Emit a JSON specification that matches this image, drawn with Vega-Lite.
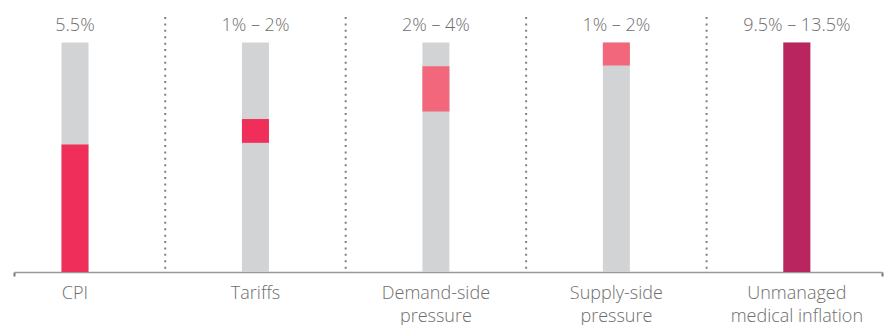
{
  "$schema": "https://vega.github.io/schema/vega-lite/v6.json",
  "width": 868,
  "height": 258,
  "autosize": {"type": "none"},
  "padding": {"left": 14, "top": 14, "right": 6, "bottom": 53},
  "background": "white",
  "config": {
    "view": {"stroke": null},
    "font": "Open Sans",
    "axisX": {"labels": false, "title": null, "grid": false, "domainColor": "#999999", "domainWidth": 1.5, "tickColor": "#777777", "tickSize": 4, "tickWidth": 2}
  },
  "datasets": {
    "bars": [
      {"pos": 1, "name": "CPI", "range": "5.5%", "lo": 0, "hi": 7.5, "kind": "CPI"},
      {"pos": 2, "name": "Tariffs", "range": "1% – 2%", "lo": 7.6, "hi": 9.0, "kind": "Tariffs"},
      {"pos": 3, "name": "Demand-side\npressure", "range": "2% – 4%", "lo": 9.45, "hi": 12.1, "kind": "Demand"},
      {"pos": 4, "name": "Supply-side\npressure", "range": "1% – 2%", "lo": 12.15, "hi": 13.5, "kind": "Supply"},
      {"pos": 5, "name": "Unmanaged\nmedical inflation", "range": "9.5% – 13.5%", "lo": 0, "hi": 13.5, "kind": "Total"}
    ],
    "seps": [{"x": 1.5}, {"x": 2.5}, {"x": 3.5}, {"x": 4.5}]
  },
  "layer": [
    {
      "data": {"name": "bars"},
      "mark": {"type": "bar", "width": 27, "color": "#d1d3d4"},
      "encoding": {
        "x": {"field": "pos", "type": "quantitative", "scale": {"domain": [0.662, 5.472], "nice": false, "zero": false, "padding": 0}, "axis": {"values": [0.663, 5.471]}},
        "y": {"datum": 0, "type": "quantitative", "scale": {"domain": [0, 15.18], "nice": false}, "axis": null},
        "y2": {"datum": 13.5}
      }
    },
    {
      "data": {"name": "bars"},
      "mark": {"type": "bar", "width": 27},
      "encoding": {
        "x": {"field": "pos", "type": "quantitative"},
        "y": {"field": "lo", "type": "quantitative", "axis": null},
        "y2": {"field": "hi"},
        "color": {"field": "kind", "type": "nominal", "legend": null, "scale": {"domain": ["CPI", "Tariffs", "Demand", "Supply", "Total"], "range": ["#ef2f5a", "#ef2f5a", "#f2677b", "#f2677b", "#b8255f"]}}
      }
    },
    {
      "data": {"name": "seps"},
      "mark": {"type": "rule", "color": "#808080", "strokeWidth": 2, "strokeDash": [2, 4.4]},
      "encoding": {
        "x": {"field": "x", "type": "quantitative"},
        "y": {"datum": 15.0, "type": "quantitative", "axis": null},
        "y2": {"datum": 0}
      }
    },
    {
      "data": {"name": "bars"},
      "mark": {"type": "text", "fontSize": 18, "fontWeight": 300, "color": "#6e6e6e", "baseline": "alphabetic", "dy": -11.5},
      "encoding": {
        "x": {"field": "pos", "type": "quantitative"},
        "y": {"datum": 13.5, "type": "quantitative", "axis": null},
        "text": {"field": "range"}
      }
    },
    {
      "data": {"name": "bars"},
      "mark": {"type": "text", "fontSize": 18, "fontWeight": 300, "color": "#6e6e6e", "baseline": "alphabetic", "dy": 26.5, "lineBreak": "\n", "lineHeight": 23},
      "encoding": {
        "x": {"field": "pos", "type": "quantitative"},
        "y": {"datum": 0, "type": "quantitative", "axis": null},
        "text": {"field": "name"}
      }
    }
  ]
}
